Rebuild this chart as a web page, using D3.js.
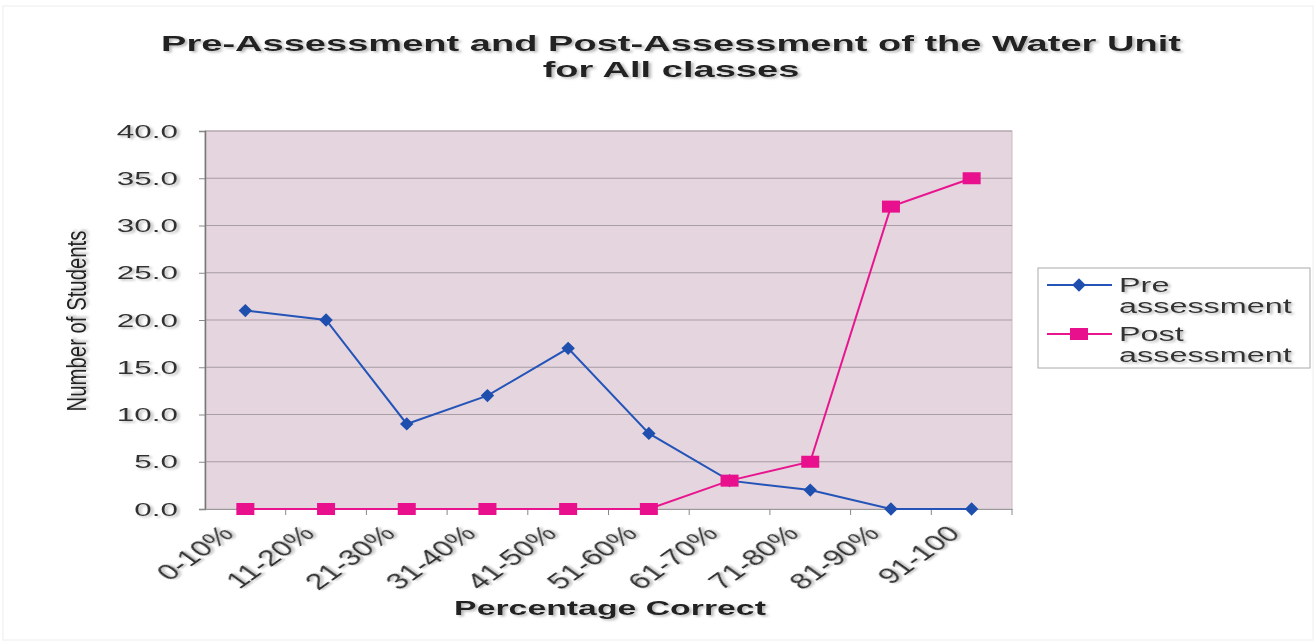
<!DOCTYPE html>
<html><head><meta charset="utf-8">
<script src="https://cdn.jsdelivr.net/npm/d3@7"></script>
<style>body{margin:0;background:#fff}svg{display:block}text{font-family:"Liberation Sans",Arial,sans-serif}</style>
</head><body>
<svg id="c" width="1316" height="644"></svg>
<script>
const categories = ["0-10%","11-20%","21-30%","31-40%","41-50%","51-60%","61-70%","71-80%","81-90%","91-100"];
const preValues = [21,20,9,12,17,8,3,2,0,0];
const postValues = [0,0,0,0,0,0,3,5,32,35];
const yTicks = [0,5,10,15,20,25,30,35,40];
const seriesNames = ["Pre assessment","Post assessment"];

const SX = 1.71; // horizontal stretch of the original picture
const svg = d3.select("#c");
const L=205,R=1012,T=131,B=509;
const x = d3.scaleBand().domain(categories).range([L,R]);
const y = d3.scaleLinear().domain([0,40]).range([B,T]);
const cx = c => x(c)+x.bandwidth()/2;

svg.append("rect").attr("x",3).attr("y",6).attr("width",1310).attr("height",634).attr("fill","#fff").attr("stroke","#eee");

const defs = svg.append("defs");
const f = defs.append("filter").attr("id","sh").attr("x","-5%").attr("y","-20%").attr("width","110%").attr("height","150%");
f.append("feDropShadow").attr("dx",1.5).attr("dy",1.5).attr("stdDeviation",1).attr("flood-color","#999").attr("flood-opacity",0.7);

svg.append("rect").attr("x",L).attr("y",T).attr("width",R-L).attr("height",B-T).attr("fill","#e4d5de").attr("stroke","#c8bcc4");

svg.append("g").selectAll("line").data(yTicks.filter(d=>d>0)).join("line")
  .attr("x1",L).attr("x2",R).attr("y1",d=>y(d)).attr("y2",d=>y(d))
  .attr("stroke","#a99da4").attr("stroke-width",1.2);

// y axis
const ya = svg.append("g").attr("transform",`translate(${L},0)`)
  .call(d3.axisLeft(y).tickValues(yTicks).tickFormat(d3.format(".1f")).tickSize(6));
ya.select(".domain").attr("stroke","#777").attr("stroke-width",1.5);
ya.selectAll(".tick line").attr("stroke","#888");
ya.selectAll(".tick text").attr("x",null).attr("dy",null)
  .attr("transform",`translate(-27,6) scale(${SX+0.04},1)`)
  .attr("font-size",18).attr("fill","#333").attr("filter","url(#sh)");

// x axis
const xa = svg.append("g").attr("transform",`translate(0,${B})`)
  .call(d3.axisBottom(x).tickSize(0).tickFormat(""));
xa.select(".domain").attr("stroke","#999").attr("stroke-width",1.2);
svg.append("g").selectAll("line").data(d3.range(1,categories.length+1)).join("line")
  .attr("x1",i=>L+i*x.step()).attr("x2",i=>L+i*x.step())
  .attr("y1",B).attr("y2",B+6).attr("stroke","#888");
svg.append("g").selectAll("text").data(categories).join("text")
  .attr("transform",d=>`translate(${cx(d)-10},${B+26}) scale(1.4,1) rotate(-45)`)
  .attr("text-anchor","end").attr("font-size",23).attr("fill","#333").attr("filter","url(#sh)")
  .text(d=>d);

// lines
const line = d3.line().x((d,i)=>cx(categories[i])).y(d=>y(d));
svg.append("path").datum(postValues).attr("d",line).attr("fill","none").attr("stroke","#e8158f").attr("stroke-width",2);
svg.append("path").datum(preValues).attr("d",line).attr("fill","none").attr("stroke","#2454b8").attr("stroke-width",2);
svg.append("g").selectAll("path").data(preValues).join("path")
  .attr("d",d3.symbol(d3.symbolDiamond,80)())
  .attr("transform",(d,i)=>`translate(${cx(categories[i])},${y(d)}) scale(1.4,0.8)`)
  .attr("fill","#1f4fae");
svg.append("g").selectAll("rect").data(postValues).join("rect")
  .attr("x",(d,i)=>cx(categories[i])-9).attr("y",d=>y(d)-6)
  .attr("width",18).attr("height",12).attr("fill","#e8108c");

// titles
const title = ["Pre-Assessment and Post-Assessment of the Water Unit","for All classes"];
title.forEach((t,i)=>{
  svg.append("text").attr("transform",`translate(671,${51+i*26}) scale(${SX+0.02},1)`)
    .attr("text-anchor","middle").attr("font-size",22).attr("font-weight","bold").attr("fill","#222")
    .attr("filter","url(#sh)").text(t);
});

svg.append("text").attr("transform",`translate(610,615) scale(${SX-0.02},1)`).attr("text-anchor","middle")
  .attr("font-size",20).attr("font-weight","bold").attr("fill","#222").attr("filter","url(#sh)").text("Percentage Correct");

svg.append("text").attr("transform","translate(86,321) rotate(-90) scale(1.13,1.5)").attr("text-anchor","middle")
  .attr("font-size",18).attr("fill","#222").attr("filter","url(#sh)").text("Number of Students");

// legend
const lg = svg.append("g");
lg.append("rect").attr("x",1038).attr("y",268).attr("width",272).attr("height",100).attr("fill","#fff").attr("stroke","#aaa");
const legendColors = ["#2454b8","#e8158f"];
seriesNames.forEach((n,i)=>{
  const ly = 285 + i*49;
  lg.append("line").attr("x1",1047).attr("x2",1112).attr("y1",ly).attr("y2",ly).attr("stroke",legendColors[i]).attr("stroke-width",2);
  if(i===0) lg.append("path").attr("d",d3.symbol(d3.symbolDiamond,80)()).attr("transform",`translate(1079,${ly}) scale(1.4,0.8)`).attr("fill","#1f4fae");
  else lg.append("rect").attr("x",1070).attr("y",ly-6).attr("width",18).attr("height",12).attr("fill","#e8108c");
  const parts = n.split(" ");
  parts.forEach((p,j)=>{
    lg.append("text").attr("transform",`translate(1119,${ly+7+j*21}) scale(1.62,1)`)
      .attr("font-size",20).attr("fill","#333").attr("filter","url(#sh)").text(p);
  });
});
</script>
</body></html>
